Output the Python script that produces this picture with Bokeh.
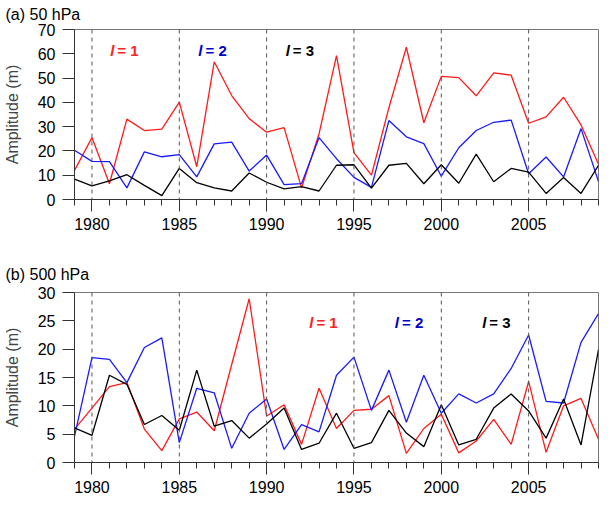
from bokeh.plotting import figure
from bokeh.layouts import column
from bokeh.models import Range1d, SingleIntervalTicker, Span, Label, Title
from bokeh.embed import file_html
from bokeh.resources import INLINE

years = list(range(1979, 2010))

# (a) 50 hPa
a_l1 = [12, 25.5, 6.5, 33.1, 28.4, 29.0, 40.1, 13.5, 56.7, 42.8, 33.3, 27.7, 29.6, 4.8, 27.0,
        59.2, 19.3, 10.0, 37.8, 62.7, 31.6, 50.7, 50.2, 42.7, 52.1, 51.2, 31.4, 34.0, 42.1, 30.7, 14.5]
a_l2 = [20.3, 15.7, 15.6, 4.8, 19.6, 17.6, 18.5, 9.3, 22.9, 23.6, 11.7, 18.3, 6.1, 6.5, 25.5,
        16.8, 9.1, 5.0, 32.5, 25.8, 23.0, 9.6, 21.3, 28.4, 31.8, 32.7, 10.6, 17.5, 9.3, 29.2, 7.4]
a_l3 = [8.4, 5.6, 7.7, 10.2, 5.8, 1.6, 12.8, 6.9, 4.8, 3.5, 10.9, 7.1, 4.4, 5.3, 3.5,
        14.1, 14.3, 4.7, 14.1, 14.9, 6.5, 14.3, 6.7, 18.7, 7.3, 12.8, 11.3, 2.5, 9.1, 2.5, 14.1]

# (b) 500 hPa
b_l1 = [5.9, 9.6, 13.4, 14.1, 5.9, 2.1, 7.7, 8.9, 5.6, 17.3, 28.9, 8.2, 10.2, 3.2, 13.1,
        6.0, 9.2, 9.4, 11.8, 1.6, 6.0, 8.5, 1.7, 3.8, 7.6, 3.2, 14.3, 1.8, 10.0, 11.3, 4.1]
b_l2 = [4.6, 18.5, 18.2, 14.1, 20.3, 22.0, 3.5, 13.1, 12.3, 2.5, 8.7, 11.2, 2.3, 6.7, 5.4,
        15.4, 18.6, 9.2, 16.3, 7.1, 15.4, 8.7, 12.1, 10.5, 12.1, 16.6, 22.5, 10.8, 10.5, 21.2, 26.3]
b_l3 = [6.1, 4.8, 15.4, 13.8, 6.7, 8.3, 5.7, 16.3, 6.4, 7.4, 4.3, 6.8, 9.6, 2.3, 3.4,
        8.7, 2.5, 3.5, 9.2, 5.2, 2.8, 10.2, 3.1, 4.1, 9.6, 12.1, 9.1, 4.3, 11.2, 3.1, 19.9]

dash_years = [1980, 1985, 1990, 1995, 2000, 2005]
wave_names = ["1", "2", "3"]
line_colors = ["#ff1a1a", "#1a1aff", "#000000"]
text_colors = ["#ff2020", "#0000cc", "#000000"]
a_label_x = [1981.45, 1986.5, 1991.5]
a_label_y = 61.4
b_label_x = [1992.85, 1997.75, 2002.75]
b_label_y = 24.7

FONT = "Liberation Sans"
LEFT = 71


def make_panel(title, spacer, series, ymax, ystep, label_x, label_y, top, bottom, height):
    p = figure(width=600, height=height, output_backend="svg", toolbar_location=None,
               x_range=Range1d(1979, 2009), y_range=Range1d(0, ymax),
               min_border_left=LEFT, min_border_right=2, min_border_top=top,
               min_border_bottom=bottom)
    # the figure title is stacked outermost; a thin blank title next to the frame lifts it
    p.title.text = title
    p.title.align = "left"
    p.title.offset = 2 - LEFT
    p.title.standoff = 0
    p.title.text_font = FONT
    p.title.text_font_size = "16px"
    p.title.text_font_style = "normal"
    p.title.text_color = "#000000"
    p.add_layout(Title(text=" ", text_font_size="1px", standoff=spacer), "above")
    p.grid.visible = False
    p.outline_line_color = "#777777"
    p.outline_line_width = 1

    xa = p.xaxis[0]
    xa.ticker = SingleIntervalTicker(interval=5, num_minor_ticks=5)
    xa.major_tick_out = 12
    xa.major_tick_in = 0
    xa.minor_tick_out = 6
    xa.minor_tick_in = 0
    xa.major_label_standoff = 6
    xa.major_label_text_font = FONT
    xa.major_label_text_font_size = "16px"
    xa.major_label_text_color = "#000000"
    xa.axis_line_color = "#333333"
    xa.major_tick_line_color = "#333333"
    xa.minor_tick_line_color = "#333333"

    ya = p.yaxis[0]
    ya.ticker = SingleIntervalTicker(interval=ystep, num_minor_ticks=0)
    ya.major_tick_out = 12
    ya.major_tick_in = 0
    ya.minor_tick_out = 0
    ya.minor_tick_in = 0
    ya.major_label_standoff = 7
    ya.major_label_text_font = FONT
    ya.major_label_text_font_size = "16px"
    ya.major_label_text_color = "#000000"
    ya.axis_label = "Amplitude (m)"
    ya.axis_label_text_font = FONT
    ya.axis_label_text_font_size = "16px"
    ya.axis_label_text_font_style = "normal"
    ya.axis_label_standoff = 14
    ya.axis_line_color = "#333333"
    ya.major_tick_line_color = "#333333"

    for yr in dash_years:
        p.add_layout(Span(location=yr, dimension="height", line_color="#555555",
                          line_dash="4 4", line_width=1))

    for vals, col in zip(series, line_colors):
        p.line(years, vals, line_color=col, line_width=1.3)

    for name, lx, tcol in zip(wave_names, label_x, text_colors):
        p.add_layout(Label(x=lx, y=label_y, text="l", text_align="right",
                           text_baseline="middle", x_offset=-3,
                           text_font=FONT, text_font_size="15px",
                           text_font_style="bold italic", text_color=tcol))
        p.add_layout(Label(x=lx, y=label_y, text="= " + name, text_align="left",
                           text_baseline="middle", text_font=FONT,
                           text_font_size="15px", text_font_style="bold",
                           text_color=tcol))
    return p


p1 = make_panel("(a) 50 hPa", 4, [a_l1, a_l2, a_l3], 70, 10, a_label_x, a_label_y, 29, 47, 246)
p2 = make_panel("(b) 500 hPa", 7, [b_l1, b_l2, b_l3], 30, 5, b_label_x, b_label_y, 46, 38, 254)

layout = column(p1, p2, spacing=0)

with open("out.html", "w") as f:
    f.write(file_html(layout, INLINE))
